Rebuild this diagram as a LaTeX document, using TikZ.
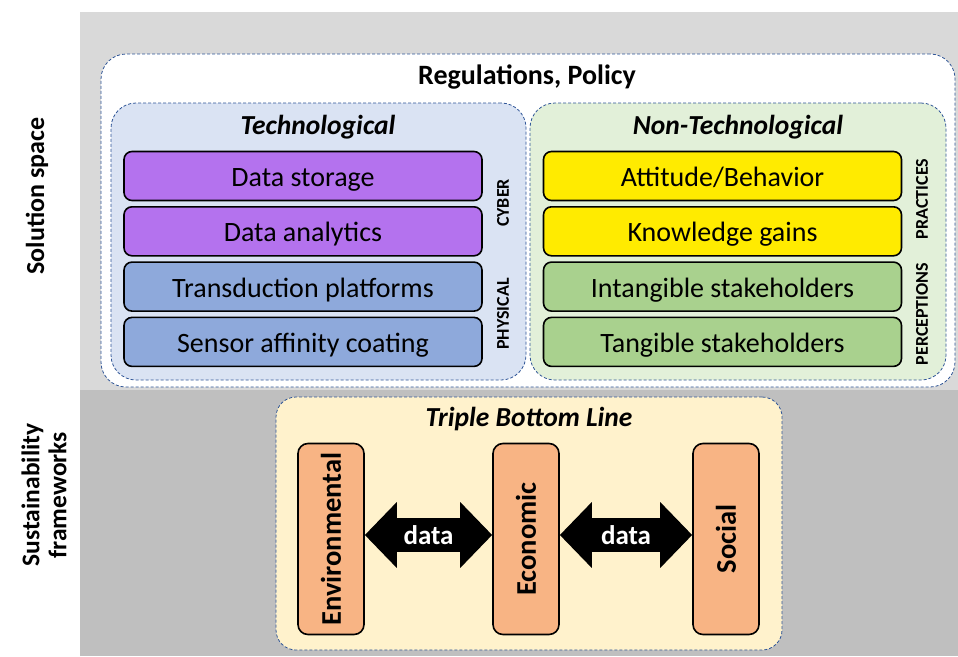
\documentclass[tikz,border=0pt]{standalone}
\usepackage{fontspec}
\setmainfont{Carlito}
\usetikzlibrary{arrows.meta}

\definecolor{spaceA}{RGB}{217,217,217}
\definecolor{spaceB}{RGB}{191,191,191}
\definecolor{dashblue}{RGB}{47,85,151}
\definecolor{techfill}{RGB}{218,227,243}
\definecolor{nontechfill}{RGB}{226,240,217}
\definecolor{tblfill}{RGB}{255,242,204}
\definecolor{cyberfill}{RGB}{180,114,238}
\definecolor{physfill}{RGB}{142,169,219}
\definecolor{practfill}{RGB}{255,235,0}
\definecolor{percfill}{RGB}{169,209,142}
\definecolor{pillarfill}{RGB}{248,180,132}

\begin{document}
\begin{tikzpicture}[x=1pt,y=-1pt]
\def\boxw{358pt}; %width of a layer box
\def\boxh{49pt}; %height of a layer box
\def\gapV{55.3}; %vertical step between layer boxes
\def\topV{176}; %centre of first layer box
\def\techx{303}; %centre column, technological
\def\ntechx{722.5}; %centre column, non-technological

\tikzstyle{group} = [rectangle, draw=dashblue, dashed, dash pattern=on 3pt off 2pt, line width=0.8pt, rounded corners=25pt, inner sep=0pt]
\tikzstyle{layer} = [rectangle, draw=black, line width=1.6pt, rounded corners=8pt, minimum width=\boxw, minimum height=\boxh, inner sep=0pt, text height=21pt, text depth=0pt, font=\fontsize{28}{32}\selectfont]
\tikzstyle{side} = [rotate=90, inner sep=0pt, font=\fontsize{18}{20}\selectfont\bfseries]
\tikzstyle{heading} = [inner sep=0pt, font=\fontsize{27.5}{32}\selectfont\bfseries\itshape]
\tikzstyle{pillar} = [rectangle, draw=black, line width=1.6pt, rounded corners=10pt, fill=pillarfill, minimum width=66pt, minimum height=191pt, inner sep=0pt]
\tikzstyle{pillartext} = [rotate=90, font=\fontsize{28.5}{32}\selectfont\bfseries]
\tikzstyle{dataarrow} = [line width=34pt, {Triangle[length=32pt,width=64pt]}-{Triangle[length=32pt,width=64pt]}]

\useasboundingbox (0,0) rectangle (958,656);

%grey bands
\fill[spaceA] (80,12) rectangle (958,390);
\fill[spaceB] (80,390) rectangle (958,656);

%band labels
\node[rotate=90, font=\fontsize{26}{30}\selectfont\bfseries] (solspace) at (37,196) {Solution space};
\node[rotate=90, align=center, font=\fontsize{25.5}{27}\selectfont\bfseries] (sustfw) at (44,495) {Sustainability\\frameworks};

%solution space
\node[group, fill=white, minimum width=854pt, minimum height=333pt] (regs) at (528,220.5) {};
\node[inner sep=0pt, font=\fontsize{28}{32}\selectfont\bfseries] (regstitle) at (527,77) {Regulations, Policy};

\node[group, fill=techfill, minimum width=415pt, minimum height=277pt] (tech) at (318.5,241.5) {};
\node[group, fill=nontechfill, minimum width=416pt, minimum height=277pt] (ntech) at (738,241.5) {};
\node[heading] (techtitle) at (318,127) {Technological};
\node[heading] (ntechtitle) at (738,127) {Non-Technological};

\foreach \lbl [count=\i] in {Data storage,Data analytics,Transduction platforms,Sensor affinity coating}{
 \ifnum\i<3 \def\lfill{cyberfill}\else \def\lfill{physfill}\fi
 \node[layer, fill=\lfill] (tl\i) at (\techx,\topV+\i*\gapV-\gapV) {\lbl};
}

\foreach \lbl [count=\i] in {Attitude/Behavior,Knowledge gains,Intangible stakeholders,Tangible stakeholders}{
 \ifnum\i<3 \def\lfill{practfill}\else \def\lfill{percfill}\fi
 \node[layer, fill=\lfill] (nl\i) at (\ntechx,\topV+\i*\gapV-\gapV) {\lbl};
}

\node[side] (cyber) at (503,203) {CYBER};
\node[side] (physical) at (503,314) {PHYSICAL};
\node[side] (practices) at (922,199) {PRACTICES};
\node[side] (perceptions) at (922,314) {PERCEPTIONS};

%triple bottom line
\node[group, fill=tblfill, rounded corners=20pt, minimum width=506pt, minimum height=253pt] (tbl) at (529,523.5) {};
\node[heading] (tbltitle) at (529,419) {Triple Bottom Line};

\node[pillar] (env) at (331,539) {};
\node[pillar] (eco) at (526,539) {};
\node[pillar] (soc) at (726,539) {};
\node[pillartext] (envtext) at (env) {Environmental};
\node[pillartext] (ecotext) at (eco) {Economic};
\node[pillartext] (soctext) at (soc) {Social};

\draw[dataarrow] ([yshift=4pt]env.east) -- ([yshift=4pt]eco.west) node[midway, white, font=\fontsize{27}{30}\selectfont\bfseries] (data1) {data};
\draw[dataarrow] ([yshift=4pt]eco.east) -- ([yshift=4pt]soc.west) node[midway, white, font=\fontsize{27}{30}\selectfont\bfseries] (data2) {data};

\end{tikzpicture}
\end{document}
